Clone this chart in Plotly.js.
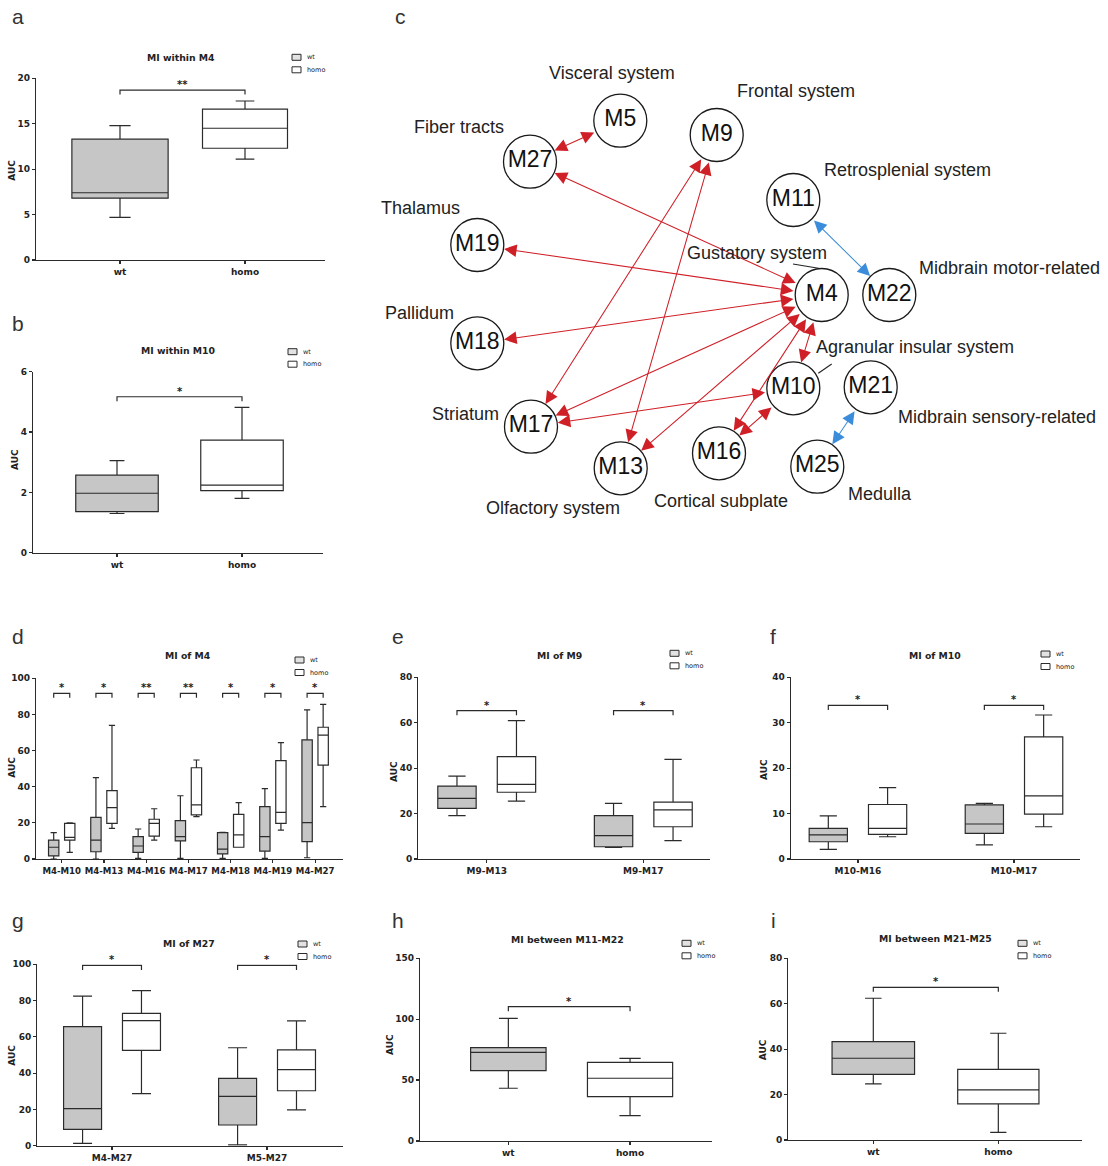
<!DOCTYPE html>
<html><head><meta charset="utf-8">
<script src="https://cdn.plot.ly/plotly-3.0.1.min.js"></script>
<style>html,body{margin:0;padding:0;background:#fff}#chart{width:1108px;height:1166px}</style>
</head><body><div id="chart"></div>
<script>
const W = 1108, H = 1166;

// ================= DATA =================
const groupNames = ['wt', 'homo'];

// a: MI within M4
const aCats = ['wt', 'homo'];
const aLower = [4.7, 11.1], aQ1 = [6.8, 12.3], aMedian = [7.4, 14.5], aQ3 = [13.3, 16.6], aUpper = [14.8, 17.5];
const aSig = ['**'], aSigY = [18.7];

// b: MI within M10
const bCats = ['wt', 'homo'];
const bLower = [1.3, 1.8], bQ1 = [1.36, 2.06], bMedian = [1.97, 2.24], bQ3 = [2.57, 3.73], bUpper = [3.05, 4.82];
const bSig = ['*'], bSigY = [5.17];

// d: MI of M4
const dCats = ['M4-M10', 'M4-M13', 'M4-M16', 'M4-M17', 'M4-M18', 'M4-M19', 'M4-M27'];
const dWtLower  = [0, 0, 0.4, 0.4, 0.4, 0.4, 0.7];
const dWtQ1     = [1.7, 4, 3.7, 10, 2.8, 4.4, 9.6];
const dWtMedian = [6.5, 10.5, 7.2, 12.4, 5.5, 12.4, 20.1];
const dWtQ3     = [10.5, 23, 12.4, 21.2, 14.6, 29, 65.9];
const dWtUpper  = [14.6, 45, 16.6, 35, 14.8, 39, 82.5];
const dHoLower  = [3.7, 17, 10.5, 23.4, 6.5, 16, 29];
const dHoQ1     = [10.5, 19.7, 12.7, 24.4, 6.5, 19.7, 52];
const dHoMedian = [12, 28.4, 19.7, 29.9, 13.3, 25.8, 68.6];
const dHoQ3     = [19.7, 37.8, 22, 50.5, 24.7, 54.4, 72.9];
const dHoUpper  = [20, 74, 27.8, 54.8, 31.2, 64.4, 85.6];
const dSig = ['*', '*', '**', '**', '*', '*', '*'], dSigY = [91.7, 91.7, 91.7, 91.7, 91.7, 91.7, 91.7];

// e: MI of M9
const eCats = ['M9-M13', 'M9-M17'];
const eWtLower = [19.1, 5.1], eWtQ1 = [22.3, 5.4], eWtMedian = [26.7, 10.3], eWtQ3 = [32.1, 19.1], eWtUpper = [36.5, 24.5];
const eHoLower = [25.5, 8.1], eHoQ1 = [29.4, 14.2], eHoMedian = [32.9, 21.6], eHoQ3 = [45.1, 25], eHoUpper = [60.9, 43.9];
const eSig = ['*', '*'], eSigY = [65.3, 65.3];

// f: MI of M10
const fCats = ['M10-M16', 'M10-M17'];
const fWtLower = [2.1, 3.1], fWtQ1 = [3.8, 5.65], fWtMedian = [5.3, 7.7], fWtQ3 = [6.75, 11.9], fWtUpper = [9.5, 12.25];
const fHoLower = [4.9, 7.1], fHoQ1 = [5.4, 9.9], fHoMedian = [6.75, 13.9], fHoQ3 = [12.0, 26.9], fHoUpper = [15.7, 31.7];
const fSig = ['*', '*'], fSigY = [33.8, 33.8];

// g: MI of M27
const gCats = ['M4-M27', 'M5-M27'];
const gWtLower = [1.3, 0.4], gWtQ1 = [9.0, 11.4], gWtMedian = [20.4, 27.2], gWtQ3 = [65.6, 37.1], gWtUpper = [82.5, 54];
const gHoLower = [28.7, 19.7], gHoQ1 = [52.6, 30.3], gHoMedian = [68.9, 41.9], gHoQ3 = [73, 52.8], gHoUpper = [85.5, 68.8];
const gSig = ['*', '*'], gSigY = [99.4, 99.4];

// h: MI between M11-M22
const hCats = ['wt', 'homo'];
const hLower = [43.3, 20.8], hQ1 = [57.8, 36.4], hMedian = [72.8, 51.5], hQ3 = [76.6, 64.6], hUpper = [100.7, 67.9];
const hSig = ['*'], hSigY = [110.3];

// i: MI between M21-M25
const iCats = ['wt', 'homo'];
const iLower = [24.7, 3.4], iQ1 = [28.9, 15.9], iMedian = [36, 22.1], iQ3 = [43.3, 31.1], iUpper = [62.4, 47];
const iSig = ['*'], iSigY = [67.2];

// c: network
const nodeNames = ['M5', 'M9', 'M27', 'M11', 'M19', 'M4', 'M22', 'M18', 'M10', 'M21', 'M17', 'M13', 'M16', 'M25'];
const nodeX = [620.3, 716.7, 530, 793.3, 477.3, 821.7, 889.3, 477.3, 793.3, 870.7, 531, 620.7, 719, 817.3];
const nodeY = [120.7, 135, 161.7, 200, 245, 295, 295, 343.3, 388.3, 387.3, 426.7, 468.3, 453.3, 466.7];
const edgeFrom = ['M5', 'M4', 'M4', 'M4', 'M4', 'M4', 'M4', 'M4', 'M9', 'M9', 'M10', 'M10', 'M11', 'M21'];
const edgeTo   = ['M27', 'M27', 'M19', 'M18', 'M17', 'M13', 'M16', 'M10', 'M17', 'M13', 'M17', 'M16', 'M22', 'M25'];
const edgeKind = ['up', 'up', 'up', 'up', 'up', 'up', 'up', 'up', 'up', 'up', 'up', 'up', 'down', 'down'];
const regionNames = ['Visceral system', 'Frontal system', 'Fiber tracts', 'Retrosplenial system', 'Thalamus', 'Gustatory system',
  'Midbrain motor-related', 'Pallidum', 'Agranular insular system', 'Striatum', 'Midbrain sensory-related', 'Medulla',
  'Cortical subplate', 'Olfactory system'];
const regionX = [612.3, 795.5, 459, 907.5, 420, 756.7, 1009.5, 419, 914.7, 465, 997.3, 880, 720.8, 552.5];
const regionY = [73.3, 91, 127.3, 170, 207.7, 253.3, 268.3, 313.3, 347.3, 414, 416.7, 494.3, 500.7, 508.3];

const panelTitles = {a: 'MI within M4', b: 'MI within M10', d: 'MI of M4', e: 'MI of M9', f: 'MI of M10',
  g: 'MI of M27', h: 'MI between M11-M22', i: 'MI between M21-M25'};

// ================= STYLE / LAYOUT =================
const LINE = '#2b2b2b', WT_FILL = '#c6c6c6', HOMO_FILL = '#ffffff';
const FB = {family: 'DejaVu Sans', size: 9, color: '#222', weight: 'bold'};
const BOXGAP = 0.24, BOXGROUPGAP = 0.355;
const OFF = 0.25 * (1 - BOXGAP);

const P = {
  a: {n: 1, px: [36, 325], py: [78.3, 260], xr: [-0.672, 1.64], ymax: 20, dtick: 5, leg: [292, 57.3], ttl: [181, 58], auc: [11.7, 170], widths: [0.77, 0.68], ww: 0.22},
  b: {n: 2, px: [33, 323], py: [371.7, 552.7], xr: [-0.672, 1.648], ymax: 6, dtick: 2, leg: [288, 351.7], ttl: [178, 350], auc: [15, 460], widths: [0.66, 0.66], ww: 0.18},
  d: {n: 4, px: [36, 343], py: [678.3, 859], xr: [-0.609, 6.66], ymax: 100, dtick: 20, leg: [295, 660], ttl: [188, 655.7], auc: [11.7, 767], ww: 0.6, xfs: 8.6},
  e: {n: 5, px: [418.3, 710], py: [677.3, 859], xr: [-0.437, 1.426], ymax: 80, dtick: 20, leg: [670, 653.3], ttl: [559, 655], auc: [393.3, 771.7], ww: 0.45},
  f: {n: 6, px: [790.7, 1080], py: [677.3, 859], xr: [-0.431, 1.423], ymax: 40, dtick: 10, leg: [1041, 654], ttl: [935, 655], auc: [764, 770], ww: 0.45},
  g: {n: 7, px: [37.3, 343], py: [964.3, 1145.7], xr: [-0.482, 1.49], ymax: 100, dtick: 20, leg: [298, 944], ttl: [188.5, 943.3], auc: [11.7, 1055], ww: 0.5},
  h: {n: 8, px: [420, 711.7], py: [958.3, 1141], xr: [-0.726, 1.671], ymax: 150, dtick: 50, leg: [682, 943.3], ttl: [567.5, 939], auc: [390, 1045], widths: [0.62, 0.7], ww: 0.25},
  i: {n: 9, px: [788.3, 1081.7], py: [958.3, 1140], xr: [-0.68, 1.667], ymax: 80, dtick: 20, leg: [1018, 943.3], ttl: [935.8, 938.3], auc: [763.3, 1050], widths: [0.66, 0.65], ww: 0.2}
};
const letters = {a: [18, 17], b: [18, 323], c: [400, 17], d: [18, 636], e: [398, 636], f: [773, 636], g: [18, 921], h: [398, 921], i: [773, 921]};

const traces = [], shapes = [], annotations = [];
const layout = {
  width: W, height: H, margin: {l: 0, r: 0, t: 0, b: 0},
  paper_bgcolor: '#fff', plot_bgcolor: 'rgba(0,0,0,0)', showlegend: false,
  boxmode: 'group', boxgap: BOXGAP, boxgroupgap: BOXGROUPGAP,
  shapes: shapes, annotations: annotations
};
const sid = n => (n === 1 ? '' : String(n));

function setupAxes(p) {
  const s = sid(p.n);
  layout['xaxis' + s] = {
    domain: [p.px[0] / W, p.px[1] / W], range: p.xr, type: 'category', anchor: 'y' + s,
    showline: true, linecolor: LINE, linewidth: 1.2, ticks: 'outside', ticklen: 3, tickwidth: 1.2, tickcolor: LINE,
    showgrid: false, zeroline: false, tickangle: 0, tickfont: Object.assign({}, FB, {size: p.xfs || 9}), fixedrange: true
  };
  layout['yaxis' + s] = {
    domain: [1 - p.py[1] / H, 1 - p.py[0] / H], range: [0, p.ymax], anchor: 'x' + s, tick0: 0, dtick: p.dtick,
    showline: true, linecolor: LINE, linewidth: 1.2, ticks: 'outside', ticklen: 3, tickwidth: 1.2, tickcolor: LINE,
    showgrid: false, zeroline: false, tickfont: FB, fixedrange: true
  };
}

function boxTrace(p, g, x, lo, q1, med, q3, up, extra) {
  const s = sid(p.n);
  return Object.assign({
    type: 'box', xaxis: 'x' + s, yaxis: 'y' + s, x: x,
    lowerfence: lo, q1: q1, median: med, q3: q3, upperfence: up,
    fillcolor: g === 0 ? WT_FILL : HOMO_FILL, line: {color: LINE, width: 1.2},
    boxpoints: false, whiskerwidth: p.ww, name: groupNames[g], showlegend: false, hoverinfo: 'skip'
  }, extra || {});
}

function pairPanel(p, cats, lo, q1, med, q3, up) {
  setupAxes(p);
  [0, 1].forEach(g => traces.push(boxTrace(p, g, [cats[g]], [lo[g]], [q1[g]], [med[g]], [q3[g]], [up[g]], {width: p.widths[g]})));
}
function groupPanel(p, cats, wt, ho) {
  setupAxes(p);
  traces.push(boxTrace(p, 0, cats, wt[0], wt[1], wt[2], wt[3], wt[4], {offsetgroup: 'wt', alignmentgroup: 'g' + p.n}));
  traces.push(boxTrace(p, 1, cats, ho[0], ho[1], ho[2], ho[3], ho[4], {offsetgroup: 'homo', alignmentgroup: 'g' + p.n}));
}

function sigBrackets(p, xs0, xs1, ys, labels) {
  const s = sid(p.n);
  const drop = 4.5 * p.ymax / (p.py[1] - p.py[0]);
  labels.forEach((lab, k) => {
    const x0 = xs0[k], x1 = xs1[k], y = ys[k];
    shapes.push({type: 'path', xref: 'x' + s, yref: 'y' + s,
      path: `M${x0},${y - drop} L${x0},${y} L${x1},${y} L${x1},${y - drop}`,
      line: {color: LINE, width: 1.2}});
    annotations.push({xref: 'x' + s, yref: 'y' + s, x: (x0 + x1) / 2, y: y, yanchor: 'bottom', xanchor: 'center',
      text: lab, showarrow: false, yshift: -2, font: {family: 'DejaVu Sans', size: 10, color: '#222', weight: 'bold'}});
  });
}

function decorations(key) {
  const p = P[key];
  annotations.push({xref: 'paper', yref: 'paper', x: p.ttl[0] / W, y: 1 - p.ttl[1] / H, xanchor: 'center', yanchor: 'middle',
    text: panelTitles[key], showarrow: false, font: {family: 'DejaVu Sans', size: 9.3, color: '#222', weight: 'bold'}});
  annotations.push({xref: 'paper', yref: 'paper', x: p.auc[0] / W, y: 1 - p.auc[1] / H, xanchor: 'center', yanchor: 'middle',
    text: 'AUC', textangle: -90, showarrow: false, font: {family: 'DejaVu Sans', size: 9, color: '#222', weight: 'bold'}});
  [0, 1].forEach(g => {
    const lx = p.leg[0], ly = p.leg[1] + g * 12.5;
    shapes.push({type: 'rect', xref: 'paper', yref: 'paper', x0: lx / W, x1: (lx + 9) / W, y0: 1 - (ly + 3) / H, y1: 1 - (ly - 3) / H,
      line: {color: LINE, width: 1}, fillcolor: g === 0 ? '#e2e2e2' : '#fff'});
    annotations.push({xref: 'paper', yref: 'paper', x: (lx + 13) / W, y: 1 - ly / H, xanchor: 'left', yanchor: 'middle',
      text: groupNames[g], showarrow: false, font: {family: 'DejaVu Sans', size: 6.5, color: '#222'}});
  });
}

// ---- box panels ----
pairPanel(P.a, aCats, aLower, aQ1, aMedian, aQ3, aUpper);
sigBrackets(P.a, [0], [1], aSigY, aSig);
pairPanel(P.b, bCats, bLower, bQ1, bMedian, bQ3, bUpper);
sigBrackets(P.b, [0], [1], bSigY, bSig);
pairPanel(P.h, hCats, hLower, hQ1, hMedian, hQ3, hUpper);
sigBrackets(P.h, [0], [1], hSigY, hSig);
pairPanel(P.i, iCats, iLower, iQ1, iMedian, iQ3, iUpper);
sigBrackets(P.i, [0], [1], iSigY, iSig);

groupPanel(P.d, dCats, [dWtLower, dWtQ1, dWtMedian, dWtQ3, dWtUpper], [dHoLower, dHoQ1, dHoMedian, dHoQ3, dHoUpper]);
sigBrackets(P.d, dCats.map((c, k) => k - OFF), dCats.map((c, k) => k + OFF), dSigY, dSig);
groupPanel(P.e, eCats, [eWtLower, eWtQ1, eWtMedian, eWtQ3, eWtUpper], [eHoLower, eHoQ1, eHoMedian, eHoQ3, eHoUpper]);
sigBrackets(P.e, eCats.map((c, k) => k - OFF), eCats.map((c, k) => k + OFF), eSigY, eSig);
groupPanel(P.f, fCats, [fWtLower, fWtQ1, fWtMedian, fWtQ3, fWtUpper], [fHoLower, fHoQ1, fHoMedian, fHoQ3, fHoUpper]);
sigBrackets(P.f, fCats.map((c, k) => k - OFF), fCats.map((c, k) => k + OFF), fSigY, fSig);
groupPanel(P.g, gCats, [gWtLower, gWtQ1, gWtMedian, gWtQ3, gWtUpper], [gHoLower, gHoQ1, gHoMedian, gHoQ3, gHoUpper]);
sigBrackets(P.g, gCats.map((c, k) => k - OFF), gCats.map((c, k) => k + OFF), gSigY, gSig);

['a', 'b', 'd', 'e', 'f', 'g', 'h', 'i'].forEach(decorations);

// ---- network panel c ----
layout.xaxis3 = {domain: [370 / W, 1], range: [370, 1108], visible: false, anchor: 'y3', fixedrange: true};
layout.yaxis3 = {domain: [1 - 530 / H, 1], range: [530, 0], visible: false, anchor: 'x3', fixedrange: true};
const NET_FONT = 'Liberation Sans, Arial, sans-serif';
const edgeColor = {up: '#cf1f27', down: '#3b8ddb'};
edgeFrom.forEach((f, k) => {
  const a = nodeNames.indexOf(f), b = nodeNames.indexOf(edgeTo[k]);
  annotations.push({xref: 'x3', yref: 'y3', axref: 'x3', ayref: 'y3',
    x: nodeX[b], y: nodeY[b], ax: nodeX[a], ay: nodeY[a], text: '', font: {size: 1},
    showarrow: true, arrowside: 'end+start', arrowhead: 2, startarrowhead: 2,
    arrowsize: 2.4, startarrowsize: 2.4, arrowwidth: 1.05, arrowcolor: edgeColor[edgeKind[k]],
    standoff: 27, startstandoff: 27});
});
shapes.push({type: 'line', xref: 'x3', yref: 'y3', x0: 793, y0: 264, x1: 820, y1: 268.5, line: {color: '#222', width: 1.1}});
shapes.push({type: 'line', xref: 'x3', yref: 'y3', x0: 818.3, y0: 373.3, x1: 831.7, y1: 364, line: {color: '#222', width: 1.1}});
traces.push({type: 'scatter', xaxis: 'x3', yaxis: 'y3', x: nodeX, y: nodeY, text: nodeNames, mode: 'markers+text',
  textposition: 'middle center', cliponaxis: false, hoverinfo: 'skip', showlegend: false,
  marker: {size: 53, color: '#fff', line: {color: '#1a1a1a', width: 1.3}},
  textfont: {family: NET_FONT, size: 23, color: '#111'}});
regionNames.forEach((r, k) => {
  annotations.push({xref: 'x3', yref: 'y3', x: regionX[k], y: regionY[k], xanchor: 'center', yanchor: 'middle',
    text: r, showarrow: false, font: {family: NET_FONT, size: 18, color: '#222'}});
});

// ---- panel letters ----
Object.keys(letters).forEach(k => {
  annotations.push({xref: 'paper', yref: 'paper', x: letters[k][0] / W, y: 1 - letters[k][1] / H, xanchor: 'center', yanchor: 'middle',
    text: k, showarrow: false, font: {family: NET_FONT, size: 21, color: '#333'}});
});

Plotly.newPlot('chart', traces, layout, {displayModeBar: false, staticPlot: true});
</script>
</body></html>
